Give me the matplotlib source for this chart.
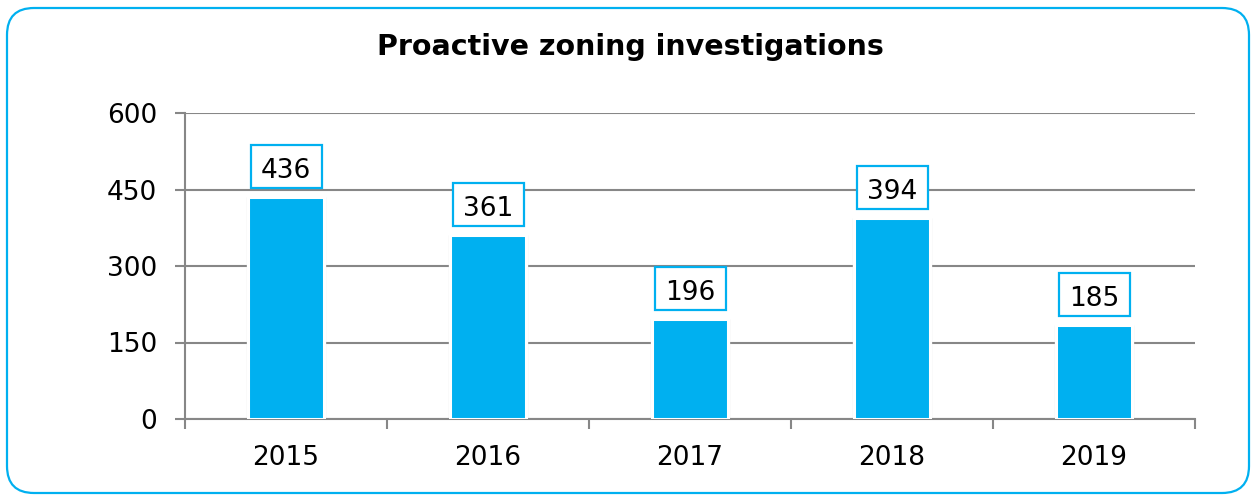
import matplotlib
matplotlib.use("Agg")
import matplotlib.pyplot as plt
from matplotlib.patches import FancyBboxPatch, Rectangle
import numpy as np

years = ["2015", "2016", "2017", "2018", "2019"]
values = [436, 361, 196, 394, 185]
yticks = [0, 150, 300, 450, 600]
title = "Proactive zoning investigations"

BLUE = "#00B0F0"
GRAY = "#878787"

W, H = 1251, 495
fig = plt.figure(figsize=(W / 100, H / 100), dpi=100)
fig.patch.set_facecolor("white")

# overlay in pixel coordinates for the rounded border
ov = fig.add_axes([0, 0, 1, 1], zorder=-1)
ov.set_xlim(0, W)
ov.set_ylim(H, 0)
ov.axis("off")
ov.add_patch(FancyBboxPatch((7, 8), 1249 - 7, 493 - 8,
                            boxstyle="round,pad=0,rounding_size=27",
                            fill=False, edgecolor=BLUE, linewidth=1.6))

L, R, T, B = 185, 1195, 113, 419
ax = fig.add_axes([L / W, 1 - B / H, (R - L) / W, (B - T) / H])
x = np.arange(len(years))
ax.set_xlim(-0.5, len(years) - 0.5)
ax.set_ylim(0, 600)
ax.set_yticks(yticks)
ax.yaxis.grid(True, color=GRAY, linewidth=1.5)
ax.set_axisbelow(True)

# faint shadow outline, then white-edged bars
ax.bar(x, values, width=0.385, color="none", edgecolor="#e6e6e6",
       linewidth=1.0, zorder=2.5)
ax.bar(x, values, width=0.372, color=BLUE, edgecolor="white",
       linewidth=2.2, zorder=3)

# data label boxes (pixel sizes converted to data units)
px_x = (len(years)) / (R - L)
px_y = 600 / (B - T)
box_w, box_h, gap = 71 * px_x, 43 * px_y, 9 * px_y
for xi, v in zip(x, values):
    y0 = v + gap
    ax.add_patch(Rectangle((xi - box_w / 2, y0), box_w, box_h, facecolor="white",
                           edgecolor=BLUE, linewidth=1.6, zorder=5, clip_on=False))
    ax.text(xi, y0 + 10 * px_y, str(v), ha="center", va="baseline",
            fontsize=19, color="black", zorder=6)

for s in ["top", "right"]:
    ax.spines[s].set_visible(False)
for s in ["left", "bottom"]:
    ax.spines[s].set_color(GRAY)
    ax.spines[s].set_linewidth(1.5)

ax.set_xticks(np.arange(-0.5, len(years), 1.0))
ax.set_xticklabels([])
ax.set_xticks(x, minor=True)
ax.set_xticklabels(years, minor=True)
ax.tick_params(axis="x", which="major", length=7, width=1.5, color=GRAY, direction="out")
ax.tick_params(axis="x", which="minor", length=0, labelsize=19, pad=19)
ax.tick_params(axis="y", length=7, width=1.5, color=GRAY, labelsize=19, pad=13)

fig.text(630 / W, 1 - 47 / H, title, ha="center", va="center",
         fontsize=20.5, fontweight="bold")

fig.savefig("out.png", dpi=100)
